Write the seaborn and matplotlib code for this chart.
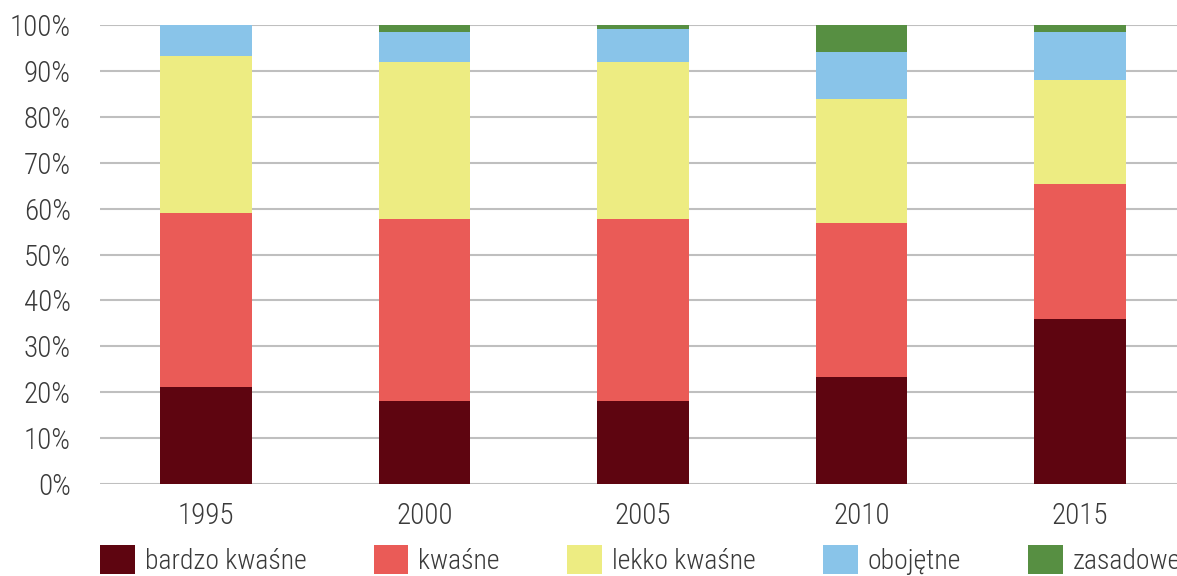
import numpy as np
import pandas as pd
import matplotlib
matplotlib.use("Agg")
import matplotlib.pyplot as plt
import seaborn as sns
from matplotlib.patches import Patch
from matplotlib import font_manager

# dane (udział %)
YEARS = ["1995", "2000", "2005", "2010", "2015"]
BARDZO_KWASNE = [21.1, 18.1, 18.1, 23.3, 35.9]
KWASNE = [37.9, 39.6, 39.6, 33.6, 29.5]
LEKKO_KWASNE = [34.2, 34.2, 34.2, 27.0, 22.6]
OBOJETNE = [6.8, 6.6, 7.2, 10.2, 10.5]
ZASADOWE = [0.0, 1.5, 0.9, 5.9, 1.5]

LABELS = ["bardzo kwaśne", "kwaśne", "lekko kwaśne", "obojętne", "zasadowe"]
COLORS = ["#5E0510", "#EA5B57", "#EDEC82", "#89C4E9", "#578F42"]

# plot-konstanter
DPI = 100
FIG_W, FIG_H = 11.77, 5.76
BAR_WIDTH = 0.42
TEXT_COLOR = "#3A3A3A"
GRID_COLOR = "#BFBFBF"

sns.set_theme(style="white")
available = {f.name for f in font_manager.fontManager.ttflist}
family = [f for f in ["Roboto Condensed", "Liberation Sans Narrow", "DejaVu Sans"] if f in available]
plt.rcParams["font.family"] = family
plt.rcParams["font.stretch"] = "condensed"
plt.rcParams["font.weight"] = "light"

df = pd.DataFrame({
    "year": YEARS,
    LABELS[0]: BARDZO_KWASNE,
    LABELS[1]: KWASNE,
    LABELS[2]: LEKKO_KWASNE,
    LABELS[3]: OBOJETNE,
    LABELS[4]: ZASADOWE,
})
cum = df[LABELS].cumsum(axis=1)
cum["year"] = df["year"]

fig = plt.figure(figsize=(FIG_W, FIG_H), dpi=DPI)
ax = fig.add_axes([100 / 1177, 92 / 576, 1077 / 1177, 459 / 576])

# rysuj od góry (suma skumulowana), niższe warstwy przykrywają wyższe
for label, color in zip(LABELS[::-1], COLORS[::-1]):
    sns.barplot(data=cum, x="year", y=label, order=YEARS, color=color,
                width=BAR_WIDTH, saturation=1, ax=ax, zorder=3, linewidth=0)

ax.set_xlim(-0.485, 4.444)
ax.set_ylim(0, 100)
ax.set_yticks(np.arange(0, 101, 10))
ax.set_yticklabels([f"{v}%" for v in range(0, 101, 10)])
ax.yaxis.grid(True, color=GRID_COLOR, linewidth=1.5, zorder=0)
ax.set_axisbelow(True)
for s in ax.spines.values():
    s.set_visible(False)
ax.set_xlabel("")
ax.set_ylabel("")
ax.tick_params(axis="y", length=0, pad=21, labelsize=21, labelcolor=TEXT_COLOR)
ax.tick_params(axis="x", length=0, pad=13, labelsize=21, labelcolor=TEXT_COLOR)

handles = [Patch(facecolor=c, edgecolor="none") for c in COLORS]
fig.legend(handles, LABELS, loc="upper left", bbox_to_anchor=(100 / 1177, 1 - 545 / 576),
           ncol=5, frameon=False, fontsize=20, handlelength=1.25, handleheight=1.25,
           handletextpad=0.36, columnspacing=2.42, borderpad=0, borderaxespad=0,
           labelcolor=TEXT_COLOR)

fig.savefig("out.png", dpi=DPI)
